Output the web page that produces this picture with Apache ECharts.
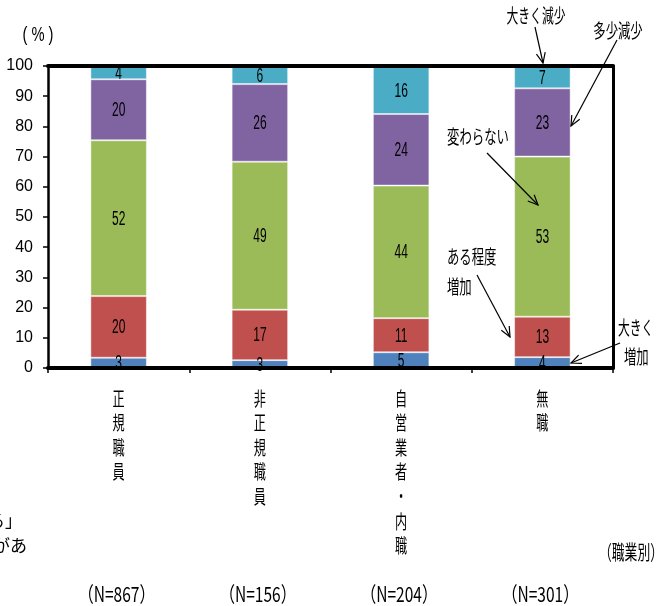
<!DOCTYPE html>
<html>
<head>
<meta charset="utf-8">
<script src="https://cdn.jsdelivr.net/npm/echarts@6/dist/echarts.min.js"></script>
<style>
html,body{margin:0;padding:0;background:#fff;}
#chart{width:672px;height:606px;}
</style>
</head>
<body>
<div id="chart"></div>
<script>
// ---- data ----
const categories = ['正規職員', '非正規職員', '自営業者・内職', '無職'];
const sampleSizes = ['867', '156', '204', '301'];
const seriesNames = ['大きく増加', 'ある程度増加', '変わらない', '多少減少', '大きく減少'];
const greatlyIncreased  = [3.4, 2.6, 5.2, 3.6];
const somewhatIncreased = [20.4, 16.7, 11.3, 13.4];
const unchanged         = [51.6, 49.0, 43.9, 53.0];
const somewhatDecreased = [20.2, 25.7, 23.7, 22.6];
const greatlyDecreased  = [4.4, 6.0, 15.9, 7.4];
const yMin = 0, yMax = 100, yStep = 10;
const colors = ['#4F81BD', '#C0504D', '#9BBB59', '#8064A2', '#4BACC6'];

const LATIN = '"Liberation Sans", Arial, sans-serif';
const CJK = '"Noto Sans CJK JP", "Noto Sans", sans-serif';

const chart = echarts.init(document.getElementById('chart'), null, {renderer: 'canvas'});

const seriesData = [greatlyIncreased, somewhatIncreased, unchanged, somewhatDecreased, greatlyDecreased];

// label items for a custom series: [category index, stack base, segment value]
const labelItems = [];
categories.forEach((c, ci) => {
  let base = 0;
  seriesData.forEach(arr => {
    labelItems.push([ci, base, arr[ci]]);
    base += arr[ci];
  });
});

const option = {
  animation: false,
  backgroundColor: '#fff',
  grid: {left: 48, right: 59, top: 66, bottom: 238, containLabel: false},
  xAxis: [{
    type: 'category',
    data: categories,
    position: 'bottom',
    axisLine: {show: true, onZero: false, lineStyle: {color: '#000', width: 4}},
    axisTick: {show: true, length: 5, lineStyle: {color: '#000', width: 1.5}},
    axisLabel: {show: false},
    z: 10
  }, {
    type: 'category',
    data: categories,
    position: 'top',
    axisLine: {show: true, onZero: false, lineStyle: {color: '#000', width: 4}},
    axisTick: {show: false},
    axisLabel: {show: false},
    z: 10
  }],
  yAxis: [{
    type: 'value',
    min: yMin, max: yMax, interval: yStep,
    position: 'left',
    axisLine: {show: true, lineStyle: {color: '#000', width: 2.5}},
    axisTick: {show: true, length: 5, lineStyle: {color: '#000', width: 1.5}},
    axisLabel: {color: '#000', fontFamily: LATIN, fontSize: 16, margin: 15},
    splitLine: {show: false}
  }, {
    type: 'value',
    min: yMin, max: yMax, interval: yStep,
    position: 'right',
    axisLine: {show: true, lineStyle: {color: '#000', width: 3}},
    axisTick: {show: false},
    axisLabel: {show: false},
    splitLine: {show: false}
  }],
  series: seriesNames.map((name, i) => ({
    name: name,
    type: 'bar',
    stack: 'total',
    barWidth: '40%',
    xAxisIndex: 0,
    yAxisIndex: 0,
    data: seriesData[i],
    itemStyle: {color: colors[i], borderColor: 'rgba(255,255,255,0.45)', borderWidth: 1},
    label: {show: false}
  })).concat([{
    name: 'values',
    type: 'custom',
    xAxisIndex: 0,
    yAxisIndex: 0,
    silent: true,
    z: 20,
    data: labelItems,
    renderItem: function (params, api) {
      const ci = api.value(0), base = api.value(1), v = api.value(2);
      const pt = api.coord([ci, base + v / 2]);
      return {
        type: 'text',
        x: pt[0], y: pt[1] + 1,
        scaleX: 0.6,
        style: {
          text: String(Math.round(v)),
          fill: '#000',
          fontFamily: LATIN,
          fontSize: 20,
          align: 'center',
          verticalAlign: 'middle'
        }
      };
    }
  }])
};
chart.setOption(option);

// ---- annotations ----
function sText(text, x, y, opts) {
  opts = opts || {};
  return {
    type: 'text', x: x, y: y, z: 100,
    scaleX: opts.scaleX != null ? opts.scaleX : 0.65,
    style: {
      text: text,
      fill: '#000',
      fontFamily: opts.fontFamily || CJK,
      fontSize: opts.fontSize || 19,
      lineHeight: opts.lineHeight,
      align: opts.align || 'center',
      verticalAlign: opts.verticalAlign || 'middle'
    }
  };
}
function arrow(x1, y1, x2, y2) {
  const ang = Math.atan2(y2 - y1, x2 - x1);
  const L = 11, a = 0.42;
  const w1 = [x2 - L * Math.cos(ang - a), y2 - L * Math.sin(ang - a)];
  const w2 = [x2 - L * Math.cos(ang + a), y2 - L * Math.sin(ang + a)];
  return [
    {type: 'line', z: 100, shape: {x1: x1, y1: y1, x2: x2, y2: y2}, style: {stroke: '#000', lineWidth: 1.2}},
    {type: 'polyline', z: 100, shape: {points: [w1, [x2, y2], w2]}, style: {stroke: '#000', lineWidth: 1.2, fill: null}}
  ];
}

const graphics = [];
// category labels (vertical), positioned from the category axis
categories.forEach((c, i) => {
  const px = chart.convertToPixel({xAxisIndex: 0}, c);
  graphics.push(sText(c.split('').join('\n'), px, 386, {verticalAlign: 'top', lineHeight: 24.6, fontSize: 19, scaleX: 0.64}));
  graphics.push(sText('（N=' + sampleSizes[i] + '）', px - 2, 594, {fontSize: 21, scaleX: 0.74}));
});
graphics.push(sText('（職業別）', 631, 552, {fontSize: 20, scaleX: 0.64}));
graphics.push(sText('( % )', 38, 35, {fontFamily: LATIN, fontSize: 21, scaleX: 0.7}));

// series annotations (legend callouts)
graphics.push(sText(seriesNames[4], 536, 16, {fontSize: 19, scaleX: 0.62}));
graphics.push(sText(seriesNames[3], 618, 31, {fontSize: 19, scaleX: 0.65}));
graphics.push(sText(seriesNames[2], 478, 137, {fontSize: 19, scaleX: 0.65}));
graphics.push(sText('ある程度', 447, 257, {fontSize: 19, scaleX: 0.65, align: 'left'}));
graphics.push(sText('増加', 447, 287, {fontSize: 19, scaleX: 0.65, align: 'left'}));
graphics.push(sText('大きく', 618, 328, {fontSize: 19, scaleX: 0.62, align: 'left'}));
graphics.push(sText('増加', 624, 357, {fontSize: 19, scaleX: 0.65, align: 'left'}));
graphics.push.apply(graphics, arrow(535, 27, 543, 63));
graphics.push.apply(graphics, arrow(617, 40, 571, 126));
graphics.push.apply(graphics, arrow(487, 153, 538, 205));
graphics.push.apply(graphics, arrow(477, 275, 510, 337));
graphics.push.apply(graphics, arrow(620, 343, 571, 363));

// clipped text remnants at the left edge
graphics.push(sText('ている」', 22, 521, {fontSize: 17, scaleX: 1, align: 'right'}));
graphics.push(sText('があ', 27, 546, {fontSize: 17, scaleX: 1, align: 'right'}));

chart.setOption({graphic: graphics});
</script>
</body>
</html>
